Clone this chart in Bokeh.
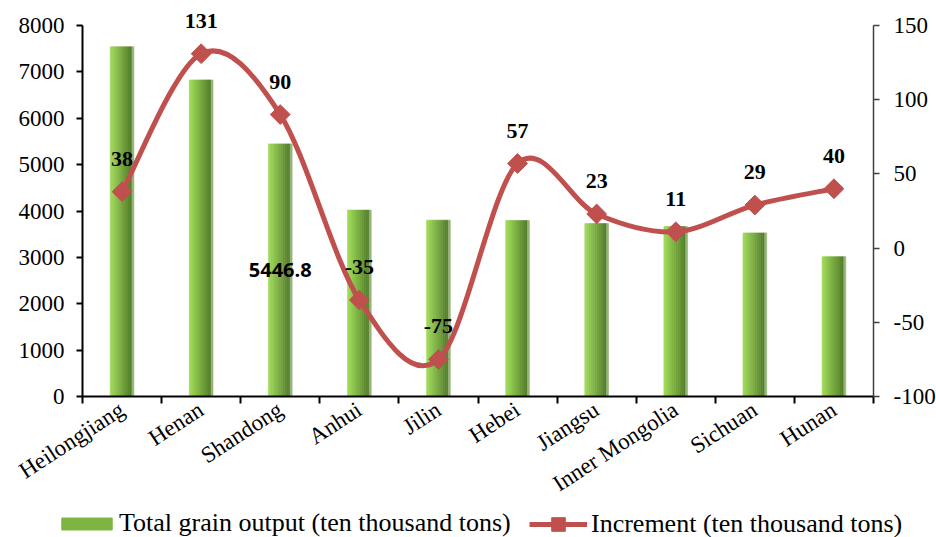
import math
from bokeh.plotting import figure
from bokeh.models import (Range1d, LinearAxis, FixedTicker, Legend,
                          LegendItem, ColumnDataSource, LabelSet, Label)
from bokeh.transform import dodge
from bokeh.embed import file_html
from bokeh.resources import INLINE

# ---- data ----
provinces = ["Heilongjiang", "Henan", "Shandong", "Anhui", "Jilin", "Hebei",
             "Jiangsu", "Inner Mongolia", "Sichuan", "Hunan"]
total_output = [7541, 6826, 5446.8, 4019, 3803, 3796, 3729, 3664, 3527, 3015]
increment = [38, 131, 90, -35, -75, 57, 23, 11, 29, 40]
left_ticks = [0, 1000, 2000, 3000, 4000, 5000, 6000, 7000, 8000]
right_ticks = [-100, -50, 0, 50, 100, 150]
shown_bar_label_index = 2  # the lone bar label "5446.8"
series_names = ["Total grain output (ten thousand tons)", "Increment (ten thousand tons)"]

n = len(provinces)
xs = list(range(n))

SERIF = "Liberation Serif"
RED = "#C0504D"
GREEN_MID = "#7DB540"

AXIS_H = 371
TOP_PAD = 20
left_lo, left_hi = left_ticks[0], left_ticks[-1]
right_lo, right_hi = right_ticks[0], right_ticks[-1]
left_top = left_hi + (left_hi - left_lo) * TOP_PAD / AXIS_H
right_top = right_hi + (right_hi - right_lo) * TOP_PAD / AXIS_H

p = figure(frame_width=791, frame_height=AXIS_H + TOP_PAD,
           min_border_left=82, min_border_right=63, min_border_top=5, min_border_bottom=112,
           x_range=Range1d(-0.5, n - 0.5), y_range=Range1d(left_lo, left_top),
           output_backend="svg", toolbar_location=None, tools="")
p.extra_y_ranges = {"inc": Range1d(right_lo, right_top)}
p.grid.visible = False
p.outline_line_color = None
p.background_fill_color = "white"
p.border_fill_color = "white"

src = ColumnDataSource(dict(x=xs, out=total_output, inc=increment,
                            lbl=[str(v) for v in increment]))

# ---- gradient bars (vertical strips) ----
bar_w = 0.30
nstrip = 12
sw = bar_w / nstrip
light = (160, 218, 88)
dark = (76, 118, 38)
for k in range(nstrip):
    t = k / (nstrip - 1)
    c = tuple(int(round(light[i] + (dark[i] - light[i]) * t)) for i in range(3))
    if k == nstrip - 1:
        c = (150, 180, 120)
    col = "#%02x%02x%02x" % c
    off = -bar_w / 2 + sw * (k + 0.5)
    p.vbar(x=dodge("x", off), top="out", width=sw, bottom=0,
           fill_color=col, line_color=col, line_width=0.6, source=src)

# ---- smooth line (Catmull-Rom -> Bezier) ----
bx0, by0, bx1, by1, cx0, cy0, cx1, cy1 = [], [], [], [], [], [], [], []
for i in range(n - 1):
    p0 = (xs[max(i - 1, 0)], increment[max(i - 1, 0)])
    p1 = (xs[i], increment[i])
    p2_ = (xs[i + 1], increment[i + 1])
    p3 = (xs[min(i + 2, n - 1)], increment[min(i + 2, n - 1)])
    bx0.append(p1[0]); by0.append(p1[1])
    bx1.append(p2_[0]); by1.append(p2_[1])
    cx0.append(p1[0] + (p2_[0] - p0[0]) / 6); cy0.append(p1[1] + (p2_[1] - p0[1]) / 6)
    cx1.append(p2_[0] - (p3[0] - p1[0]) / 6); cy1.append(p2_[1] - (p3[1] - p1[1]) / 6)
bsrc = ColumnDataSource(dict(x0=bx0, y0=by0, x1=bx1, y1=by1, cx0=cx0, cy0=cy0, cx1=cx1, cy1=cy1))
p.bezier(x0="x0", y0="y0", x1="x1", y1="y1", cx0="cx0", cy0="cy0", cx1="cx1", cy1="cy1",
         line_color=RED, line_width=5, y_range_name="inc", source=bsrc)
p.scatter("x", "inc", marker="square", angle=math.pi / 4, size=14,
          fill_color=RED, line_color=RED, y_range_name="inc", source=src)

# ---- data labels ----
labels = LabelSet(x="x", y="inc", text="lbl", y_range_name="inc", source=src,
                  y_offset=33, text_align="center", text_baseline="middle",
                  text_font=SERIF, text_font_style="bold", text_font_size="22px",
                  text_color="black")
p.add_layout(labels)
j = shown_bar_label_index
p.add_layout(Label(x=xs[j], y=total_output[j] / 2, text=str(total_output[j]),
                   text_align="center", text_baseline="middle",
                   text_font="Open Sans", text_font_style="bold", text_font_size="20px",
                   text_color="black"))

# ---- axes ----
xa = p.xaxis[0]
xa.ticker = FixedTicker(ticks=xs, minor_ticks=[i - 0.5 for i in range(n + 1)])
xa.major_label_overrides = {i: name for i, name in enumerate(provinces)}
xa.major_tick_line_color = None
xa.minor_tick_in = 0
xa.minor_tick_out = 7
xa.minor_tick_line_color = "black"
xa.minor_tick_line_width = 2
xa.axis_line_color = "black"
xa.axis_line_width = 2
xa.major_label_orientation = math.radians(33)
xa.major_label_standoff = 4
xa.major_label_text_font = SERIF
xa.major_label_text_font_size = "23px"
xa.major_label_text_color = "black"

ya = p.yaxis[0]
ya.ticker = FixedTicker(ticks=left_ticks)
ya.bounds = (left_lo, left_hi)
ya.minor_tick_line_color = None
ya.major_tick_in = 0
ya.major_tick_out = 6
ya.major_tick_line_color = "black"
ya.major_tick_line_width = 2
ya.axis_line_color = "black"
ya.axis_line_width = 2
ya.major_label_standoff = 12
ya.major_label_text_font = SERIF
ya.major_label_text_font_size = "23px"
ya.major_label_text_color = "black"

ra = LinearAxis(y_range_name="inc", ticker=FixedTicker(ticks=right_ticks))
ra.bounds = (right_lo, right_hi)
ra.major_label_overrides = {v: str(v) for v in right_ticks}
ra.minor_tick_line_color = None
ra.major_tick_in = 0
ra.major_tick_out = 6
ra.major_tick_line_color = "#404040"
ra.major_tick_line_width = 1.5
ra.axis_line_color = "#404040"
ra.axis_line_width = 1.5
ra.major_label_standoff = 14
ra.major_label_text_font = SERIF
ra.major_label_text_font_size = "23px"
ra.major_label_text_color = "black"
p.add_layout(ra, "right")

# ---- legend strip (separate root below the chart) ----
LEG_H = 29
q = figure(width=936, height=LEG_H, min_border=0, x_axis_type=None, y_axis_type=None,
           x_range=Range1d(0, 1), y_range=Range1d(0, 1),
           output_backend="svg", toolbar_location=None, tools="")
q.grid.visible = False
q.outline_line_color = None
q.border_fill_color = "white"
q.background_fill_color = "white"
# legend proxies, kept below the visible range
proxy_bar = q.vbar(x=[0.5], bottom=[-9], top=[-8], width=0.1,
                   fill_color=GREEN_MID, line_color=GREEN_MID)
proxy_line = q.line(x=[0.4, 0.6], y=[-8, -8], line_color=RED, line_width=5)
proxy_pt = q.scatter(x=[0.5], y=[-8], marker="square", angle=math.pi / 4,
                     fill_color=RED, line_color=RED)

common = dict(orientation="horizontal", padding=0, margin=0, border_line_color=None,
              background_fill_alpha=0, label_text_font=SERIF, label_text_font_size="26px",
              label_text_color="black", label_text_baseline="middle")
leg_a = Legend(items=[LegendItem(label=series_names[0], renderers=[proxy_bar])],
               location=(55, 0), glyph_width=63, glyph_height=15, label_standoff=1,
               label_height=28, **common)
leg_b = Legend(items=[LegendItem(label=series_names[1], renderers=[proxy_line, proxy_pt])],
               location=(529, -3), glyph_width=58, glyph_height=34, label_standoff=4,
               label_height=28, **common)
q.add_layout(leg_a, "center")
q.add_layout(leg_b, "center")

open("out.html", "w").write(file_html([p, q], INLINE))
